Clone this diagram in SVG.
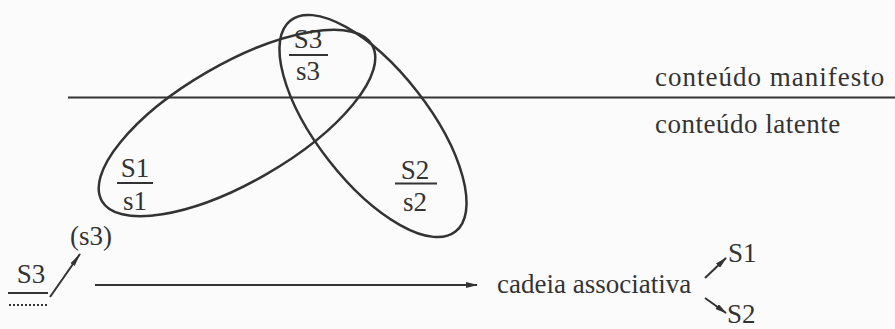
<svg xmlns="http://www.w3.org/2000/svg" width="895" height="329" viewBox="0 0 895 329">
<defs>
<style>
.t{font-family:"Liberation Serif","DejaVu Serif",serif;font-size:27px;fill:#333}
.ln{stroke:#333;stroke-width:2;fill:none}
.el{stroke:#333;stroke-width:2.5;fill:none}
</style>
<marker id="ah" viewBox="0 0 12 6" refX="11" refY="3" markerWidth="12" markerHeight="6" markerUnits="userSpaceOnUse" orient="auto">
<path d="M0,0 L12,3 L0,6 Z" fill="#333"/>
</marker>
<marker id="ah2" viewBox="0 0 14 6" refX="13" refY="3" markerWidth="14" markerHeight="6" markerUnits="userSpaceOnUse" orient="auto">
<path d="M0,0.5 L14,3 L0,5.5 Z" fill="#333"/>
</marker>
</defs>
<rect width="895" height="329" fill="#fbfbfb"/>
<g id="divider">
<line class="ln" x1="68" y1="97.5" x2="895" y2="97.5"/>
<text class="t" x="655" y="86" font-family="Liberation Serif, serif" letter-spacing="1">conteúdo manifesto</text>
<text class="t" x="655" y="133" letter-spacing="0.5">conteúdo latente</text>
</g>
<g id="ellipseA">
<ellipse class="el" cx="237" cy="123" rx="156" ry="59" transform="rotate(-30 237 123)"/>
</g>
<g id="ellipseB">
<ellipse class="el" cx="373" cy="126" rx="134" ry="56" transform="rotate(52 373 126)"/>
</g>
<g id="S3s3">
<text class="t" x="308" y="48" text-anchor="middle">S3</text>
<line class="ln" x1="289" y1="55" x2="328" y2="55"/>
<text class="t" x="308" y="80" text-anchor="middle">s3</text>
</g>
<g id="S1s1">
<text class="t" x="135" y="177" text-anchor="middle">S1</text>
<line class="ln" x1="117" y1="183" x2="153" y2="183"/>
<text class="t" x="135" y="210" text-anchor="middle">s1</text>
</g>
<g id="S2s2">
<text class="t" x="415" y="179" text-anchor="middle">S2</text>
<line class="ln" x1="395" y1="183.5" x2="437" y2="183.5"/>
<text class="t" x="415" y="211" text-anchor="middle">s2</text>
</g>
<g id="S3bottom">
<text class="t" x="31" y="283" text-anchor="middle">S3</text>
<line class="ln" x1="8" y1="293" x2="48" y2="293"/>
<line x1="9" y1="305" x2="47" y2="305" stroke="#333" stroke-width="2" stroke-dasharray="2,2"/>
</g>
<g id="s3paren">
<text class="t" x="70" y="245">(s3)</text>
</g>
<g id="chain">
<text class="t" x="497" y="293">cadeia associativa</text>
</g>
<g id="S1right"><text class="t" x="728" y="262">S1</text></g>
<g id="S2right"><text class="t" x="727" y="323">S2</text></g>
<g id="connectors">
<line class="ln" x1="50" y1="297" x2="80" y2="254" marker-end="url(#ah2)"/>
<line class="ln" x1="95" y1="285" x2="477" y2="285" marker-end="url(#ah)"/>
<line class="ln" x1="705" y1="278" x2="726" y2="258" marker-end="url(#ah)"/>
<line class="ln" x1="705" y1="298" x2="726" y2="313" marker-end="url(#ah)"/>
</g>
</svg>
